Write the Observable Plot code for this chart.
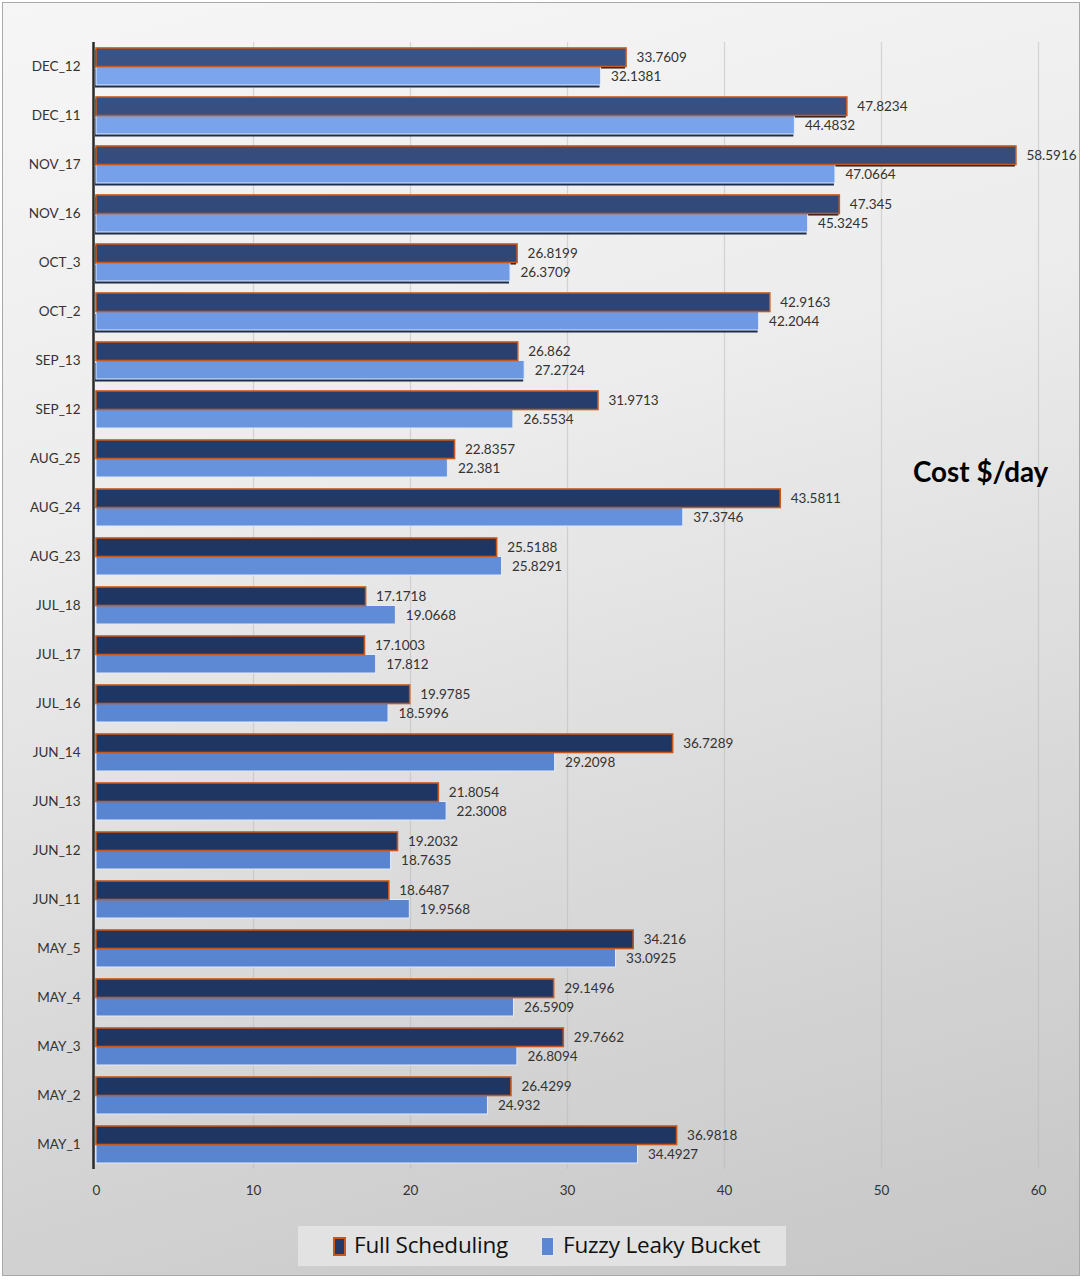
<!DOCTYPE html>
<html>
<head>
<meta charset="utf-8">
<script src="https://cdn.jsdelivr.net/npm/d3@7"></script>
<script src="https://cdn.jsdelivr.net/npm/@observablehq/plot@0.6"></script>
<style>
  html, body { margin: 0; padding: 0; }
  body { width: 1084px; height: 1280px; overflow: hidden; font-family: Lato, "Open Sans", sans-serif; }
  #frame {
    position: absolute; left: 2px; top: 2px; width: 1078px; height: 1274px;
    border: 1px solid #a9a9a9; box-sizing: border-box;
    background: linear-gradient(165deg, #f6f6f6 0%, #ececec 35%, #dadada 65%, #c6c6c6 100%);
  }
  #chart { position: absolute; left: 0; top: 0; }
  #title {
    position: absolute; left: 913px; top: 455px; font-family: Lato, sans-serif;
    font-weight: 700; font-size: 27.8px; color: #000; white-space: nowrap;
  }
  #legend {
    position: absolute; left: 298px; top: 1226px; width: 488px; height: 40px;
    background: #e2e2e2;
    font-family: "Open Sans", sans-serif; font-size: 22.5px; color: #111;
  }
  .sw { position: absolute; top: 11px; width: 13px; height: 19px; box-sizing: border-box; }
  .lt { position: absolute; top: 3px; white-space: nowrap; letter-spacing: -0.2px; }
</style>
</head>
<body>
<div id="frame"></div>
<div id="chart"></div>
<div id="title">Cost $/day</div>
<div id="legend">
  <div class="sw" style="left:35px;background:#22396a;border:2px solid #c5581c"></div><span class="lt" style="left:56px">Full Scheduling</span>
  <div class="sw" style="left:243px;background:#5b87d2;border:1px solid #dfe8f7"></div><span class="lt" style="left:265px">Fuzzy Leaky Bucket</span>
</div>
<script>
const categories = ["DEC_12","DEC_11","NOV_17","NOV_16","OCT_3","OCT_2","SEP_13","SEP_12","AUG_25","AUG_24","AUG_23","JUL_18","JUL_17","JUL_16","JUN_14","JUN_13","JUN_12","JUN_11","MAY_5","MAY_4","MAY_3","MAY_2","MAY_1"];
const fullScheduling = [33.7609,47.8234,58.5916,47.345,26.8199,42.9163,26.862,31.9713,22.8357,43.5811,25.5188,17.1718,17.1003,19.9785,36.7289,21.8054,19.2032,18.6487,34.216,29.1496,29.7662,26.4299,36.9818];
const fuzzyLeakyBucket = [32.1381,44.4832,47.0664,45.3245,26.3709,42.2044,27.2724,26.5534,22.381,37.3746,25.8291,19.0668,17.812,18.5996,29.2098,22.3008,18.7635,19.9568,33.0925,26.5909,26.8094,24.932,34.4927];
const xTicks = [0,10,20,30,40,50,60];

const full = categories.map((c,i) => ({cat: c, v: fullScheduling[i], i}));
const fuzzy = categories.map((c,i) => ({cat: c, v: fuzzyLeakyBucket[i], i}));
const n = categories.length;
const darkCol = i => d3.interpolateRgb("#3a5284", "#1f3663")(Math.min(1, i / 10));
const lightCol = i => d3.interpolateRgb("#7ba6ee", "#5884d0")(Math.min(1, i / 14));

const half = 18.5;
const chart = Plot.plot({
  width: 1084,
  height: 1219,
  marginLeft: 96,
  marginRight: 46,
  marginTop: 42,
  marginBottom: 50,
  style: {background: "transparent", fontFamily: "Lato, sans-serif", fontSize: "13.5px", color: "#333"},
  x: {domain: [0, 60], ticks: xTicks, label: null, tickSize: 0, tickPadding: 16, grid: false},
  y: {domain: categories, label: null, tickSize: 0, tickPadding: 16, paddingInner: 0.245, paddingOuter: 0.12},
  marks: [
    Plot.ruleX(xTicks.filter(d => d > 0), {stroke: "#b8b8b8", strokeOpacity: 0.5, strokeWidth: 1.2}),
    // shadows (top rows only, as in the perspective view)
    Plot.barX(fuzzy.filter(d => d.i < 7), {y: "cat", x: "v", insetTop: half, fill: "#1c2c4c", dy: 2.5, dx: -1}),
    Plot.barX(full.filter(d => d.i < 5), {y: "cat", x: "v", insetBottom: half, fill: "#111", dy: 2, dx: -1}),
    Plot.barX(fuzzy, {y: "cat", x: "v", insetTop: half, fill: d => lightCol(d.i), stroke: "#e3ebf8", strokeWidth: 1}),
    Plot.barX(full, {y: "cat", x: "v", insetBottom: half, fill: d => darkCol(d.i), stroke: "#c5581c", strokeWidth: 1.6}),
    Plot.text(full, {y: "cat", x: "v", text: d => String(d.v), dx: 10, dy: -9.5, textAnchor: "start", fill: "#333", fontSize: 13.5}),
    Plot.text(fuzzy, {y: "cat", x: "v", text: d => String(d.v), dx: 10, dy: 9.5, textAnchor: "start", fill: "#333", fontSize: 13.5}),
    Plot.ruleX([0], {dx: -3, stroke: "#2a2a2a", strokeWidth: 2.5})
  ]
});
document.getElementById("chart").appendChild(chart);
</script>
</body>
</html>
